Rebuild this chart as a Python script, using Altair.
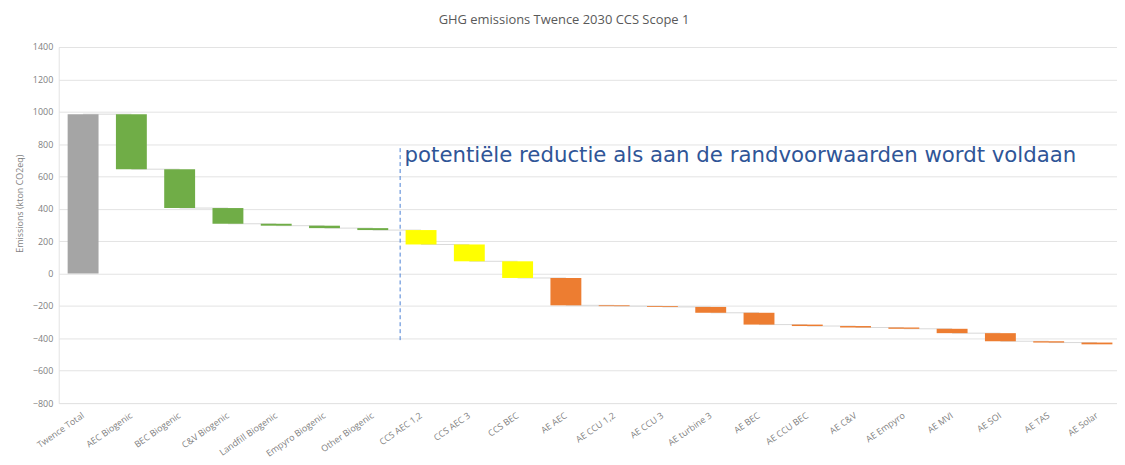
import altair as alt
import pandas as pd

categories = [
    "Twence Total", "AEC Biogenic", "BEC Biogenic", "C&V Biogenic",
    "Landfill Biogenic", "Empyro Biogenic", "Other Biogenic",
    "CCS AEC 1,2", "CCS AEC 3", "CCS BEC",
    "AE AEC", "AE CCU 1,2", "AE CCU 3", "AE turbine 3", "AE BEC",
    "AE CCU BEC", "AE C&V", "AE Empyro", "AE MVI", "AE SOI", "AE TAS", "AE Solar",
]
start_values = [0, 985, 645, 405, 308, 296, 281, 269, 180, 76, -27, -196, -201,
                -206, -242, -315, -324, -333, -341, -368, -418, -426]
end_values = [985, 645, 405, 308, 296, 281, 269, 180, 76, -27, -196, -201, -206,
              -242, -315, -324, -333, -341, -368, -418, -426, -437]
groups = ["total"] + ["biogenic"] * 6 + ["ccs"] * 3 + ["ae"] * 12

group_domain = ["total", "biogenic", "ccs", "ae"]
group_colors = ["#A5A5A5", "#70AD47", "#FFFF00", "#ED7D31"]

y_ticks = list(range(-800, 1401, 200))
annotation_text = "potentiële reductie als aan de randvoorwaarden wordt voldaan"
annotation_category = "CCS AEC 1,2"
annotation_y = 690
dash_top = 775
dash_bottom = -415

df = pd.DataFrame({
    "cat": categories,
    "start": start_values,
    "end": end_values,
    "group": groups,
})
conn = pd.DataFrame({
    "cat": categories[:-1],
    "next": categories[1:],
    "level": end_values[:-1],
})
single = pd.DataFrame({"cat": [annotation_category], "text": [annotation_text]})

xscale = alt.Scale(domain=categories, paddingInner=0.36, paddingOuter=0.14, align=0.66)
yscale = alt.Scale(domain=[-800, 1400], nice=False, zero=False)

x_axis = alt.Axis(
    title=None, labelAngle=-35, labelAlign="right", labelBaseline="middle",
    labelFont="Open Sans", labelFontSize=9, labelColor="#7F7F7F",
    labelPadding=11, ticks=False, domain=False, grid=False, labelOverlap=False,
)
y_axis = alt.Axis(
    title="Emissions (kton CO2eq)", values=y_ticks, format="d",
    labelOverlap=False, labelFont="Open Sans",
    labelFontSize=9, labelColor="#7F7F7F", ticks=False, domain=False,
    labelPadding=6, gridColor="#E3E3E3", gridWidth=1,
    titleFont="Open Sans", titleFontSize=9, titleColor="#7F7F7F",
    titleFontWeight="normal", titlePadding=8, titleY=157,
)

connectors = alt.Chart(conn).mark_rule(color="#D9D9D9", strokeWidth=1).encode(
    x=alt.X("cat:N", scale=xscale, axis=x_axis, sort=categories),
    x2="next:N",
    y=alt.Y("level:Q", scale=yscale, axis=y_axis),
)

bars = alt.Chart(df).mark_bar().encode(
    x=alt.X("cat:N", scale=xscale, axis=x_axis, sort=categories),
    y=alt.Y("start:Q", scale=yscale, axis=y_axis),
    y2="end:Q",
    color=alt.Color("group:N", scale=alt.Scale(domain=group_domain, range=group_colors), legend=None),
)

dashed = alt.Chart(single).mark_rule(
    color="#4A7FD4", strokeDash=[4, 3], strokeWidth=1, xOffset=-5.5
).encode(
    x=alt.X("cat:N", bandPosition=0, scale=xscale, axis=x_axis),
    y=alt.Y(datum=dash_top, scale=yscale, axis=y_axis),
    y2=alt.Y2(datum=dash_bottom),
)

label = alt.Chart(single).mark_text(
    align="left", baseline="alphabetic", dx=-1,
    font="DejaVu Sans", fontSize=21.4, color="#2F5597",
).encode(
    x=alt.X("cat:N", bandPosition=0, scale=xscale, axis=x_axis),
    y=alt.Y(datum=annotation_y, scale=yscale, axis=y_axis),
    text="text:N",
)

chart = alt.layer(connectors, bars, dashed, label).properties(
    width=1064, height=358,
    autosize=alt.AutoSizeParams(type="none"),
    padding={"left": 51, "top": 38, "right": 0, "bottom": 55},
    title=alt.TitleParams(
        "GHG emissions Twence 2030 CCS Scope 1", font="Open Sans", fontSize=13,
        fontWeight="normal", color="#595959", anchor="middle", offset=16, dx=-24,
    ),
    background="white",
).configure_view(stroke="#E3E3E3")

chart.save("out.html", embed_options={"renderer": "svg", "actions": False})
